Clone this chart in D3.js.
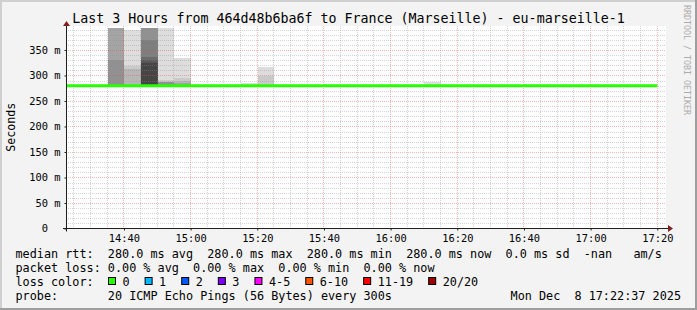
<!DOCTYPE html>
<html>
<head>
<meta charset="utf-8">
<script src="https://cdn.jsdelivr.net/npm/d3@7"></script>
<style>
    body { margin: 0; background: #f3f3f3; }
    svg { display: block; font-family: "DejaVu Sans Mono", monospace; }
    text { white-space: pre; }
</style>
</head>
<body>
<svg width="697" height="310"></svg>
<script>
const TITLE = "Last 3 Hours from 464d48b6ba6f to France (Marseille) - eu-marseille-1";
const DAY = "2025-12-08";
const WINDOW = ["14:22:37", "17:22:37"];

// 5 minute rrd steps (start time of each step), the last one ends at 17:20
const steps = [
    "14:20", "14:25", "14:30", "14:35", "14:40", "14:45", "14:50", "14:55", "15:00",
    "15:05", "15:10", "15:15", "15:20", "15:25", "15:30", "15:35", "15:40", "15:45",
    "15:50", "15:55", "16:00", "16:05", "16:10", "16:15", "16:20", "16:25", "16:30",
    "16:35", "16:40", "16:45", "16:50", "16:55", "17:00", "17:05", "17:10", "17:15"
];
const LAST_STEP_END = "17:20";

// median rtt per step (ms)
const medianRtt = [
    280, 280, 280, 280, 280, 280, 280, 280, 280,
    280, 280, 280, 280, 280, 280, 280, 280, 280,
    280, 280, 280, 280, 280, 280, 280, 280, 280,
    280, 280, 280, 280, 280, 280, 280, 280, 280
];

// steps where the 20 pings spread out (the "smoke"), sorted rtts in ms
const smokeSteps = ["14:35", "14:40", "14:45", "14:50", "14:55", "15:15", "15:20", "16:10"];
const smokePings = [
    [280, 280, 280, 280, 280, 280, 280, 280, 280, 280, 280, 280, 280, 280, 280, 330, 393, 393, 393, 393],
    [280, 280, 280, 280, 280, 280, 280, 280, 280, 280, 280, 280, 280, 280, 280, 280, 280, 313, 318, 389],
    [280, 280, 280, 280, 280, 280, 280, 280, 280, 280, 280, 324, 330, 336, 370, 393, 393, 393, 393, 393],
    [280, 280, 280, 280, 280, 280, 280, 280, 280, 280, 280, 280, 280, 280, 280, 287, 287, 287, 292, 393],
    [280, 280, 280, 280, 280, 280, 280, 280, 280, 280, 280, 280, 280, 280, 280, 280, 286, 290, 296, 335],
    [280, 280, 280, 280, 280, 280, 280, 280, 280, 280, 280, 280, 280, 280, 280, 280, 280, 280, 280, 286],
    [280, 280, 280, 280, 280, 280, 280, 280, 280, 280, 280, 280, 280, 280, 280, 280, 280, 280, 299, 317],
    [280, 280, 280, 280, 280, 280, 280, 280, 280, 280, 280, 280, 280, 280, 280, 280, 280, 280, 280, 287]
];

// packet loss avg / max / min / now (%)
const packetLoss = [0, 0, 0, 0];

const yTicks = [0, 50, 100, 150, 200, 250, 300, 350];
const xTicks = ["14:40", "15:00", "15:20", "15:40", "16:00", "16:20", "16:40", "17:00", "17:20"];

const lossLabels = ["0", "1", "2", "3", "4-5", "6-10", "11-19", "20/20"];
const lossColors = ["#26ff00", "#00b8ff", "#0059ff", "#7e00ff", "#ff00ff", "#ff5500", "#ff0000", "#a10000"];

const PROBE = "20 ICMP Echo Pings (56 Bytes) every 300s";
const STAMP = "Mon Dec  8 17:22:37 2025";

var svg = d3.select("svg"),
    width = +svg.attr("width"),
    height = +svg.attr("height");

var parse = d3.utcParse("%Y-%m-%d %H:%M:%S");
function t(s) {
    return parse(DAY + " " + (s.length == 5 ? s + ":00" : s));
}

var plot = { left: 66, right: 666, top: 26, bottom: 228.5 };

var x = d3.scaleUtc().domain([t(WINDOW[0]), t(WINDOW[1])]).range([plot.left, plot.right]);
var y = d3.scaleLinear().domain([0, 397]).range([plot.bottom, plot.top]);

// frame
svg.append("rect").attr("width", width).attr("height", height).attr("fill", "#f3f3f3");
svg.append("path").attr("d", `M0,1H${width}M1,0V${height}`).attr("stroke", "#cfcfcf").attr("stroke-width", 2);
svg.append("path").attr("d", `M0,${height - 1}H${width}M${width - 1},0V${height}`).attr("stroke", "#9e9e9e").attr("stroke-width", 2);

// canvas
svg.append("rect")
    .attr("x", plot.left).attr("y", plot.top)
    .attr("width", plot.right - plot.left).attr("height", plot.bottom - plot.top)
    .attr("fill", "#fff");

svg.append("clipPath").attr("id", "clip")
    .append("rect")
    .attr("x", plot.left).attr("y", plot.top)
    .attr("width", plot.right - plot.left).attr("height", plot.bottom - plot.top);

// smoke: band i spans ping[i]..ping[n-1-i], inner bands darker (smokeping colours)
var smoke = svg.append("g").attr("clip-path", "url(#clip)");
smokeSteps.forEach((s, k) => {
    var pings = smokePings[k],
        n = pings.length,
        half = n / 2,
        x0 = Math.ceil(x(t(s))),
        x1 = Math.ceil(x(d3.utcMinute.offset(t(s), 5)));
    for (var ibot = 1; ibot <= half; ibot++) {
        var lo = pings[ibot - 1], hi = pings[n - ibot];
        if (hi <= lo) continue;
        var c = Math.floor(190 / half * (half - ibot)) + 50;
        var yt = Math.round(y(hi)), yb = Math.round(y(lo));
        smoke.append("rect")
            .attr("x", x0).attr("width", x1 - x0)
            .attr("y", yt).attr("height", yb - yt)
            .attr("fill", d3.rgb(c, c, c));
    }
});

// grid
var grid = svg.append("g").attr("stroke-dasharray", "1,1").attr("fill", "none");
var minorY = d3.range(10, 397, 10).filter((v) => v % 50 != 0);
grid.selectAll(".hmin").data(minorY).enter().append("line")
    .attr("x1", plot.left).attr("x2", plot.right)
    .attr("y1", (d) => Math.round(y(d)) + 0.5).attr("y2", (d) => Math.round(y(d)) + 0.5)
    .attr("stroke", "#8f8f8f").attr("stroke-opacity", 0.38);
var minorX = d3.utcMinute.every(5).range(x.domain()[0], x.domain()[1])
    .filter((d) => d.getUTCMinutes() % 20 != 0);
grid.selectAll(".vmin").data(minorX).enter().append("line")
    .attr("y1", plot.top).attr("y2", plot.bottom)
    .attr("x1", (d) => Math.floor(x(d)) + 0.5).attr("x2", (d) => Math.floor(x(d)) + 0.5)
    .attr("stroke", "#8f8f8f").attr("stroke-opacity", 0.38);
grid.selectAll(".hmaj").data(yTicks.slice(1)).enter().append("line")
    .attr("x1", plot.left).attr("x2", plot.right)
    .attr("y1", (d) => Math.round(y(d)) + 0.5).attr("y2", (d) => Math.round(y(d)) + 0.5)
    .attr("stroke", "#de5050").attr("stroke-opacity", 0.42);
grid.selectAll(".vmaj").data(xTicks).enter().append("line")
    .attr("y1", plot.top).attr("y2", plot.bottom)
    .attr("x1", (d) => Math.floor(x(t(d))) + 0.5).attr("x2", (d) => Math.floor(x(t(d))) + 0.5)
    .attr("stroke", "#de5050").attr("stroke-opacity", 0.42);

// median line
var medPts = steps.map((s, i) => [t(s), medianRtt[i]]);
medPts.push([t(LAST_STEP_END), medianRtt[medianRtt.length - 1]]);
svg.append("path")
    .attr("clip-path", "url(#clip)")
    .attr("d", d3.line().curve(d3.curveStepAfter).x((d) => x(d[0])).y((d) => y(d[1]))(medPts))
    .attr("fill", "none")
    .attr("stroke", lossColors[0])
    .attr("stroke-width", 3);

// axes
var xAxis = svg.append("g")
    .attr("transform", `translate(0,${plot.bottom})`)
    .call(d3.axisBottom(x).tickValues(xTicks.map(t)).tickFormat(d3.utcFormat("%H:%M")).tickSize(2).tickPadding(4));
var yAxis = svg.append("g")
    .attr("transform", `translate(${plot.left + 0.5},0)`)
    .call(d3.axisLeft(y).tickValues(yTicks).tickFormat((d) => d == 0 ? "0\u00a0\u00a0" : d + "\u00a0m").tickSize(2).tickPadding(4));
[xAxis, yAxis].forEach((a) => {
    a.select(".domain").remove();
    a.selectAll("line").attr("stroke", "#1f1f1f");
    a.selectAll("text").attr("font-family", "DejaVu Sans Mono").attr("font-size", "10.4px").attr("fill", "#000");
});

svg.append("path")
    .attr("d", `M${plot.left - 3},${plot.bottom}H${plot.right + 2}M${plot.left + 0.5},${plot.bottom + 3}V${plot.top}`)
    .attr("stroke", "#1f1f1f").attr("fill", "none");
svg.append("path")
    .attr("d", `M${plot.right + 2},${plot.bottom - 3.5}L${plot.right + 7},${plot.bottom}L${plot.right + 2},${plot.bottom + 3.5}Z` +
        `M${plot.left - 3},${plot.top}L${plot.left + 0.5},${plot.top - 5}L${plot.left + 4},${plot.top}Z`)
    .attr("fill", "#801f1f");

// title, unit, watermark
svg.append("text")
    .attr("x", width / 2).attr("y", 23)
    .attr("text-anchor", "middle").attr("font-size", "13.3px")
    .text(TITLE);
svg.append("text")
    .attr("transform", `translate(15,${(plot.top + plot.bottom) / 2}) rotate(-90)`)
    .attr("text-anchor", "middle").attr("font-size", "11.6px")
    .text("Seconds");
svg.append("text")
    .attr("transform", "translate(684,5) rotate(90)")
    .attr("font-size", "8.3px").attr("fill", "#ababab")
    .text("RRDTOOL / TOBI OETIKER");

// legend
var fmt1 = d3.format(".1f"), fmt2 = d3.format(".2f");
var mAvg = d3.mean(medianRtt), mMax = d3.max(medianRtt), mMin = d3.min(medianRtt),
    mNow = medianRtt[medianRtt.length - 1], mSd = d3.deviation(medianRtt);
var legend = svg.append("g").attr("font-size", "11.8px").attr("fill", "#000");
legend.append("text").attr("x", 15.5).attr("y", 258)
    .text(`median rtt:  ${fmt1(mAvg)} ms avg  ${fmt1(mMax)} ms max  ${fmt1(mMin)} ms min  ${fmt1(mNow)} ms now  ${fmt1(mSd)} ms sd  -nan   am/s`);
legend.append("text").attr("x", 15.5).attr("y", 272)
    .text(`packet loss: ${fmt2(packetLoss[0])} % avg  ${fmt2(packetLoss[1])} % max  ${fmt2(packetLoss[2])} % min  ${fmt2(packetLoss[3])} % now`);
legend.append("text").attr("x", 15.5).attr("y", 286).text("loss color:");
var bx = 108.5;
lossLabels.forEach((lab, i) => {
    legend.append("rect")
        .attr("x", bx).attr("y", 277.5).attr("width", 7).attr("height", 7)
        .attr("fill", lossColors[i]).attr("stroke", "#000");
    var tx = legend.append("text").attr("x", bx + 14).attr("y", 286).text(lab);
    bx = bx + 14 + tx.node().getComputedTextLength() + 15.5;
});
legend.append("text").attr("x", 15.5).attr("y", 300).text("probe:" + " ".repeat(7) + PROBE);
legend.append("text").attr("x", 681).attr("y", 300).attr("text-anchor", "end").text(STAMP);
</script>
</body>
</html>
